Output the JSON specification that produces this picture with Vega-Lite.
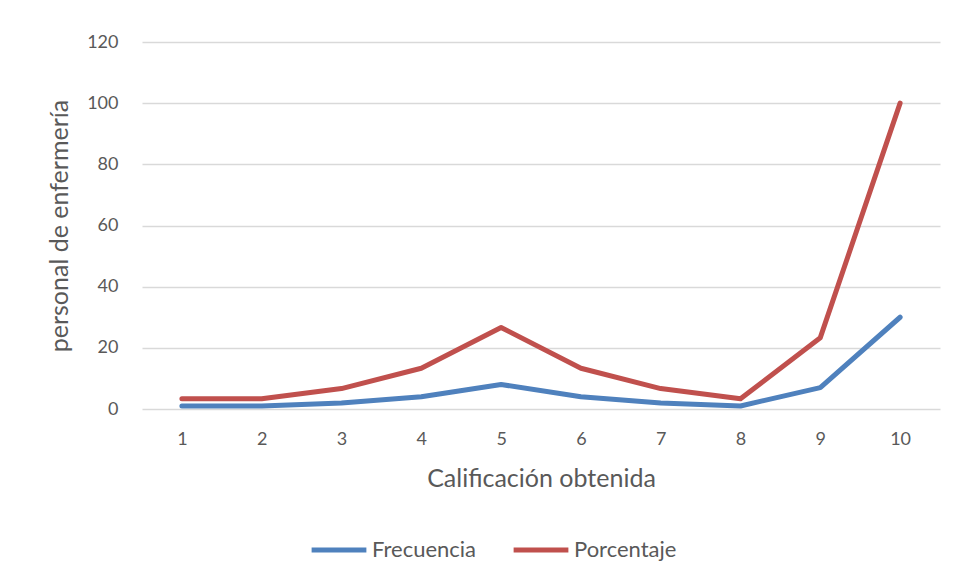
{
  "$schema": "https://vega.github.io/schema/vega-lite/v6.json",
  "autosize": {"type": "none"},
  "width": 798,
  "height": 367,
  "padding": {"left": 142, "top": 42, "right": 16, "bottom": 171},
  "background": "white",
  "config": {
    "view": {"stroke": null},
    "font": "Lato"
  },
  "data": {
    "values": [
      {"calificacion": 1, "serie": "Frecuencia", "valor": 1},
      {"calificacion": 2, "serie": "Frecuencia", "valor": 1},
      {"calificacion": 3, "serie": "Frecuencia", "valor": 2},
      {"calificacion": 4, "serie": "Frecuencia", "valor": 4},
      {"calificacion": 5, "serie": "Frecuencia", "valor": 8},
      {"calificacion": 6, "serie": "Frecuencia", "valor": 4},
      {"calificacion": 7, "serie": "Frecuencia", "valor": 2},
      {"calificacion": 8, "serie": "Frecuencia", "valor": 1},
      {"calificacion": 9, "serie": "Frecuencia", "valor": 7},
      {"calificacion": 10, "serie": "Frecuencia", "valor": 30},
      {"calificacion": 1, "serie": "Porcentaje", "valor": 3.33},
      {"calificacion": 2, "serie": "Porcentaje", "valor": 3.33},
      {"calificacion": 3, "serie": "Porcentaje", "valor": 6.67},
      {"calificacion": 4, "serie": "Porcentaje", "valor": 13.33},
      {"calificacion": 5, "serie": "Porcentaje", "valor": 26.67},
      {"calificacion": 6, "serie": "Porcentaje", "valor": 13.33},
      {"calificacion": 7, "serie": "Porcentaje", "valor": 6.67},
      {"calificacion": 8, "serie": "Porcentaje", "valor": 3.33},
      {"calificacion": 9, "serie": "Porcentaje", "valor": 23.33},
      {"calificacion": 10, "serie": "Porcentaje", "valor": 100}
    ]
  },
  "mark": {"type": "line", "strokeWidth": 5, "strokeCap": "round", "strokeJoin": "round"},
  "encoding": {
    "x": {
      "field": "calificacion",
      "type": "ordinal",
      "scale": {"type": "point", "padding": 0.5},
      "axis": {
        "title": "Calificación obtenida",
        "titleFontSize": 25,
        "titleFontWeight": "normal",
        "titleColor": "#595959",
        "titlePadding": 18,
        "labelAngle": 0,
        "labelFontSize": 18,
        "labelColor": "#595959",
        "labelPadding": 21,
        "domain": false,
        "ticks": false,
        "grid": false
      }
    },
    "y": {
      "field": "valor",
      "type": "quantitative",
      "scale": {"domain": [0, 120], "nice": false},
      "axis": {
        "title": "personal de enfermería",
        "titleFontSize": 25,
        "titleFontWeight": "normal",
        "titleColor": "#595959",
        "titlePadding": 14,
        "values": [0, 20, 40, 60, 80, 100, 120],
        "labelFontSize": 18,
        "labelColor": "#595959",
        "labelPadding": 24,
        "domain": false,
        "ticks": false,
        "gridColor": "#d9d9d9",
        "gridWidth": 1.5
      }
    },
    "color": {
      "field": "serie",
      "type": "nominal",
      "scale": {"domain": ["Frecuencia", "Porcentaje"], "range": ["#4f81bd", "#c0504d"]},
      "legend": {
        "title": null,
        "orient": "none",
        "direction": "horizontal",
        "legendX": 167,
        "legendY": 478,
        "symbolType": "stroke",
        "symbolSize": 3000,
        "symbolStrokeWidth": 5,
        "labelFontSize": 22,
        "labelColor": "#595959",
        "labelOffset": 3,
        "columnPadding": 26
      }
    }
  }
}
